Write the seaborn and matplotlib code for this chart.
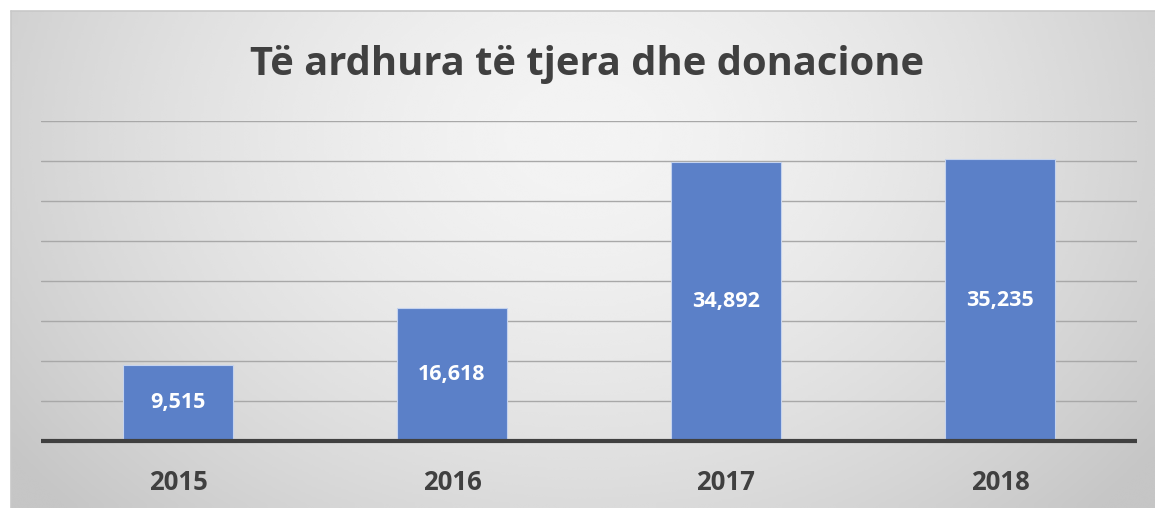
import matplotlib.pyplot as plt
import numpy as np
import pandas as pd
import seaborn as sns

# Dados do gráfico
years = ['2015', '2016', '2017', '2018']
values = [9515, 16618, 34892, 35235]
title = 'Të ardhura të tjera dhe donacione'

df = pd.DataFrame({'year': years, 'value': values})

sns.set_theme(style='white')
plt.rcParams['font.family'] = ['Open Sans', 'DejaVu Sans']

W, H = 1155, 508
fig = plt.figure(figsize=(W / 100, H / 100), dpi=100)
fig.patch.set_facecolor('white')

# Fundo com gradiente radial (claro no centro, cinza nas bordas)
bg = fig.add_axes([11 / W, 0, 1 - 11 / W, 1 - 11 / H], zorder=0)
gx, gy = np.meshgrid(np.linspace(0, 1, 400), np.linspace(0, 1, 200))
r = np.sqrt(((gx - 0.5) / 0.62) ** 2 + ((gy - 0.25) / 1.1) ** 2)
shade = 0.955 - 0.18 * np.clip(r, 0, 1) ** 1.6
bg.imshow(shade, cmap='gray', vmin=0, vmax=1, aspect='auto',
          extent=[0, 1, 1, 0], interpolation='bicubic')
bg.set_xlim(0, 1)
bg.set_ylim(1, 0)
bg.axis('off')
fig.add_artist(plt.Line2D([11 / W, 1], [1 - 11 / H, 1 - 11 / H],
                          color='#c8c8c8', lw=1.2, transform=fig.transFigure))
fig.add_artist(plt.Line2D([11 / W, 11 / W], [0, 1 - 11 / H],
                          color='#c8c8c8', lw=1.2, transform=fig.transFigure))

# Gráfico de barras
ax = fig.add_axes([41 / W, 67 / H, 1096 / W, 320 / H], zorder=1)
ax.set_facecolor('none')
sns.barplot(data=df, x='year', y='value', color='#5b80c8', saturation=1,
            width=0.4, edgecolor='#c5d3ee', linewidth=0.8, ax=ax, zorder=3)

ax.set_ylim(0, 40000)
ax.set_xlim(-0.5, 3.5)
ax.set_yticks(np.arange(5000, 40001, 5000))
ax.yaxis.grid(True, color='#a8a8a8', linewidth=1)
ax.set_axisbelow(True)
ax.axhline(0, color='#404040', linewidth=3, zorder=4, clip_on=False,
           solid_capstyle='butt')
for s in ax.spines.values():
    s.set_visible(False)
ax.tick_params(axis='y', left=False, labelleft=False)
ax.tick_params(axis='x', bottom=False, pad=14)
for lbl in ax.get_xticklabels():
    lbl.set_fontweight('bold')
    lbl.set_fontsize(18.5)
    lbl.set_color('#404040')
ax.set_xlabel('')
ax.set_ylabel('')

# Rótulos de dados no centro das barras
for i, v in enumerate(values):
    ax.text(i, v / 2, f'{v:,}', ha='center', va='center', color='white',
            fontsize=15.5, fontweight='bold', zorder=5)

fig.text(587 / W, 1 - 64 / H, title, ha='center', va='center',
         fontsize=28.7, fontweight='bold', color='#404040')

fig.savefig('out.png', dpi=100)
